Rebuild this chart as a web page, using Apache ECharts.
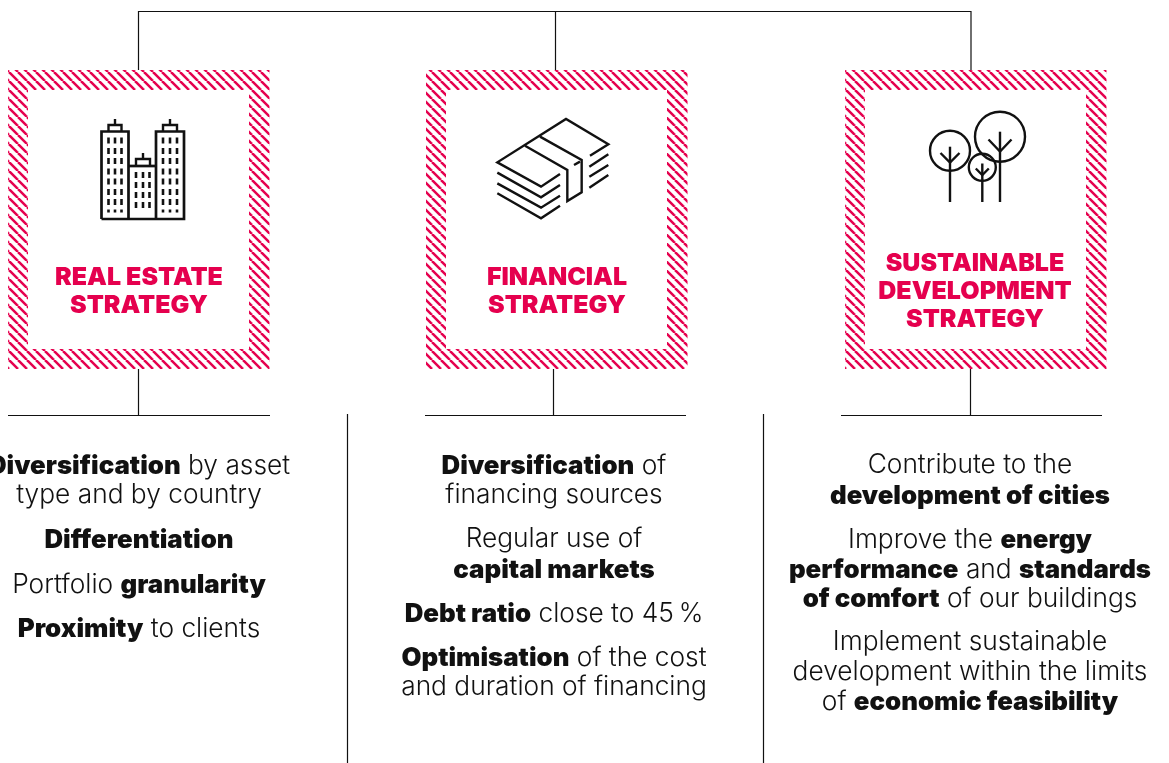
<!DOCTYPE html>
<html><head><meta charset="utf-8">
<style>html,body{margin:0;padding:0;background:#fff}#c{width:1169px;height:763px}</style>
<script src="https://cdn.jsdelivr.net/npm/echarts@6/dist/echarts.min.js"></script></head>
<body><div id="c"></div>
<script>
const titles = [
  ['REAL ESTATE','STRATEGY'],
  ['FINANCIAL','STRATEGY'],
  ['SUSTAINABLE','DEVELOPMENT','STRATEGY']
];
const realEstateLines = [
  '{b|Diversification} by asset','type and by country','{b|Differentiation}',
  'Portfolio {b|granularity}','{b|Proximity} to clients'
];
const financialLines = [
  '{b|Diversification} of','financing sources','Regular use of','{b|capital markets}',
  '{b|Debt ratio} close to 45\u202f%','{b|Optimisation} of the cost','and duration of financing'
];
const sustainableLines = [
  'Contribute to the','{b|development of cities}','Improve the {b|energy}',
  '{b|performance} and {b|standards}','{b|of comfort} of our buildings',
  'Implement sustainable','development within the limits','of {b|economic feasibility}'
];
const lineCentres = [
  [465,495,539,584,628],
  [465,495,539,569,613,657,687],
  [465,495,539,569,598,642,672,701]
];
const FONT = 'Inter';
const RED = '#e5004e';
const INK = '#111';
const boxLeft = [8,426,845];
const textX = [139,554,970];
const titleX = [139,557,975];
const titleY = [[277,305],[277,305],[263,291,319]];
const bullets = [realEstateLines,financialLines,sustainableLines];

function hatch(){
  const p=9, c=document.createElement('canvas'); c.width=p;c.height=p;
  const g=c.getContext('2d'); g.strokeStyle=RED; g.lineWidth=2.5;
  for(const d of [-p,0,p]){g.beginPath();g.moveTo(d,0);g.lineTo(d+p,p);g.stroke();}
  return c;
}
const el=[];
const lines=(pts,w)=>el.push({type:'polyline',shape:{points:pts},style:{fill:null,stroke:INK,lineWidth:w||1.2},silent:true});
// connectors
lines([[138.5,70],[138.5,11.5],[971,11.5],[971,70]]);
lines([[555.5,11],[555.5,70]]);
lines([[138.5,369],[138.5,415.5]]);lines([[8,415.5],[270,415.5]]);
lines([[553.5,369],[553.5,415.5]]);lines([[425,415.5],[686,415.5]]);
lines([[970.5,369],[970.5,415.5]]);lines([[841,415.5],[1102,415.5]]);
lines([[347.5,414],[347.5,763]]);lines([[763.5,414],[763.5,763]]);
// boxes
const pat={image:hatch(),repeat:'repeat'};
boxLeft.forEach(x=>{
  el.push({type:'rect',shape:{x:x,y:70,width:261.5,height:299},style:{fill:pat},silent:true});
  el.push({type:'rect',shape:{x:x+20,y:90,width:221,height:259},style:{fill:'#fff'},silent:true});
});
// building
const ic=(pts,w)=>lines(pts,w||2.4);
ic([[101.5,219],[101.5,131.5],[128.5,131.5],[128.5,219]],2.7);
ic([[156,219],[156,131.5],[184,131.5],[184,219],[101.5,219]],2.7);
ic([[128.5,166],[156,166]],2.7);
[[108.5,121.5,115,125,131],[163,177,170,125,131],[136,150,143,159,166]].forEach(r=>{
  ic([[r[0],r[4]],[r[0],r[3]],[r[1],r[3]],[r[1],r[4]]]);ic([[r[2],r[3]],[r[2],r[3]-6]]);
});
const win=(xs,ys)=>xs.forEach(x=>ys.forEach((y,i)=>{
  el.push({type:'rect',shape:{x:x-1.3,y:y-3,width:2.6,height:6},style:{fill:INK},silent:true});
}));
win([108.5,115,121.5],[140.5,151,161,171.5,181.5,192,202]);
win([163,170,177],[140.5,151,161,171.5,181.5,192,202]);
win([136,143,149.5],[175,185,195,205]);
[[108.5,115,121.5],[163,170,177]].forEach(xs=>xs.forEach(x=>el.push({type:'rect',shape:{x:x-1.3,y:209.5,width:2.6,height:3},style:{fill:INK},silent:true})));
// money
const m=(a)=>ic(a.map(p=>[480+p[0]/3,105+p[1]/3]));
m([[330,152],[385,118],[258,42],[52,172],[183,245],[240,207]]);
m([[180,95],[305,165],[305,262],[262,288],[262,195],[135,122]]);
m([[282,180],[300,170]]);
m([[52,203],[183,277],[240,240]]);m([[52,235],[183,308],[240,272]]);m([[52,265],[183,340],[240,302]]);
m([[328,185],[385,148]]);m([[328,215],[385,180]]);m([[328,248],[385,210]]);
// trees
const tree=(cx,cy,r,stemTop,by,bw,bh)=>{
  el.push({type:'circle',shape:{cx:cx,cy:cy,r:r},style:{fill:'none',stroke:INK,lineWidth:2.4},silent:true});
  ic([[cx,stemTop],[cx,202]]);ic([[cx-bw,by-bh],[cx,by],[cx+bw,by-bh]]);
};
tree(950,150.7,20,146.7,162.5,9.5,9.5);
tree(1000,136.7,25,131.7,151.5,11.5,12);
tree(982.3,167.3,13.5,163.5,175,6.5,6.5);
// titles
titles.forEach((t,i)=>t.forEach((s,j)=>el.push({type:'text',silent:true,x:titleX[i],y:titleY[i][j]+.5,
  style:{text:s,x:0,y:0,align:'center',verticalAlign:'middle',fill:RED,font:'900 25px '+FONT}})));
// body
bullets.forEach((b,i)=>b.forEach((s,j)=>el.push({type:'text',silent:true,x:textX[i],
  y:lineCentres[i][j]+(s.indexOf('{b|')>=0?1:.5),
  style:{text:s,x:0,y:0,align:'center',verticalAlign:'middle',fill:INK,font:'300 26.3px '+FONT,
    rich:{b:{font:'900 25.8px '+FONT,fill:INK}}}})));
const chart=echarts.init(document.getElementById('c'),null,{renderer:'canvas',width:1169,height:763});
chart.setOption({animation:false,backgroundColor:'#fff',graphic:{elements:el}});
</script></body></html>
